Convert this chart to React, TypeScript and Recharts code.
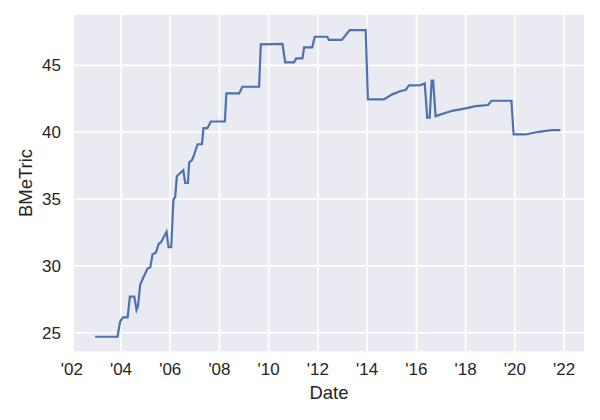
import { LineChart, Line, XAxis, YAxis, CartesianGrid } from 'recharts';

// fractional year of each observation
const years = [
  2002.95, 2003.86, 2003.96, 2004.02, 2004.09, 2004.27, 2004.36, 2004.54, 2004.63, 2004.69,
  2004.78, 2004.95, 2005.08, 2005.19, 2005.28, 2005.42, 2005.53, 2005.62, 2005.85, 2005.93,
  2006.04, 2006.13, 2006.2, 2006.27, 2006.53, 2006.61, 2006.72, 2006.77, 2006.88, 2006.97,
  2007.11, 2007.29, 2007.35, 2007.51, 2007.65, 2008.22, 2008.28, 2008.8, 2008.93, 2009.61,
  2009.68, 2010.56, 2010.67, 2011.03, 2011.12, 2011.37, 2011.44, 2011.77, 2011.87, 2012.38,
  2012.45, 2012.97, 2013.29, 2013.94, 2014.03, 2014.68, 2015.02, 2015.36, 2015.56, 2015.7,
  2016.17, 2016.34, 2016.44, 2016.54, 2016.62, 2016.68, 2016.78, 2017.45, 2018.0, 2018.4,
  2018.91, 2019.05, 2019.86, 2019.95, 2020.43, 2020.97, 2021.51, 2021.85,
];

const bmetric = [
  24.7, 24.7, 25.8, 26.0, 26.15, 26.15, 27.7, 27.7, 26.7, 27.0,
  28.6, 29.3, 29.8, 29.9, 30.85, 31.0, 31.65, 31.75, 32.55, 31.4,
  31.4, 34.95, 35.15, 36.7, 37.15, 36.2, 36.2, 37.75, 37.9, 38.3,
  39.1, 39.1, 40.3, 40.3, 40.8, 40.8, 42.9, 42.9, 43.4, 43.4,
  46.57, 46.6, 45.22, 45.22, 45.52, 45.52, 46.35, 46.35, 47.14, 47.14,
  46.9, 46.9, 47.64, 47.64, 42.45, 42.45, 42.83, 43.08, 43.15, 43.5,
  43.52, 43.65, 41.08, 41.08, 43.85, 43.85, 41.2, 41.6, 41.78, 41.95,
  42.03, 42.35, 42.35, 39.83, 39.83, 40.03, 40.15, 40.15,
];

const xTicks = [2002, 2004, 2006, 2008, 2010, 2012, 2014, 2016, 2018, 2020, 2022];
const yTicks = [25, 30, 35, 40, 45];

const data = years.map((t, i) => ({ t, v: bmetric[i] }));

const font = '"Liberation Sans", Arial, sans-serif';
const textColor = '#262626';

const App = () => {
  return (
    <div style={{ position: 'absolute', left: 0, top: 0, width: 600, height: 420, background: '#fff' }}>
      <LineChart width={600} height={420} data={data} margin={{ top: 14, right: 15, bottom: 0, left: 0 }}>
        <CartesianGrid fill="#EAEAF2" stroke="#fff" strokeWidth={1.6} verticalPoints={undefined} />
        <XAxis
          dataKey="t"
          type="number"
          domain={[2002.05, 2022.85]}
          ticks={xTicks}
          allowDataOverflow
          tickFormatter={(v: number) => "'" + String(v).slice(2)}
          axisLine={false}
          tickLine={false}
          tickSize={0}
          tickMargin={11}
          height={68}
          tick={{ fill: textColor, fontSize: 17, fontFamily: font }}
          label={{ value: 'Date', position: 'insideBottom', offset: 21, fill: textColor, fontSize: 18.5, fontFamily: font }}
        />
        <YAxis
          type="number"
          domain={[23.56, 48.84]}
          ticks={yTicks}
          allowDataOverflow
          axisLine={false}
          tickLine={false}
          tickSize={0}
          tickMargin={12}
          width={73}
          tick={{ fill: textColor, fontSize: 17, fontFamily: font }}
          label={{
            content: () => (
              <text
                x={25}
                y={183}
                transform="rotate(-90 25 183)"
                textAnchor="middle"
                dominantBaseline="central"
                fill={textColor}
                fontSize={18.5}
                fontFamily={font}
              >
                BMeTric
              </text>
            ),
          }}
        />
        <Line
          type="linear"
          dataKey="v"
          stroke="#4C72B0"
          strokeWidth={2.2}
          dot={false}
          activeDot={false}
          isAnimationActive={false}
        />
      </LineChart>
    </div>
  );
};

export default App;
